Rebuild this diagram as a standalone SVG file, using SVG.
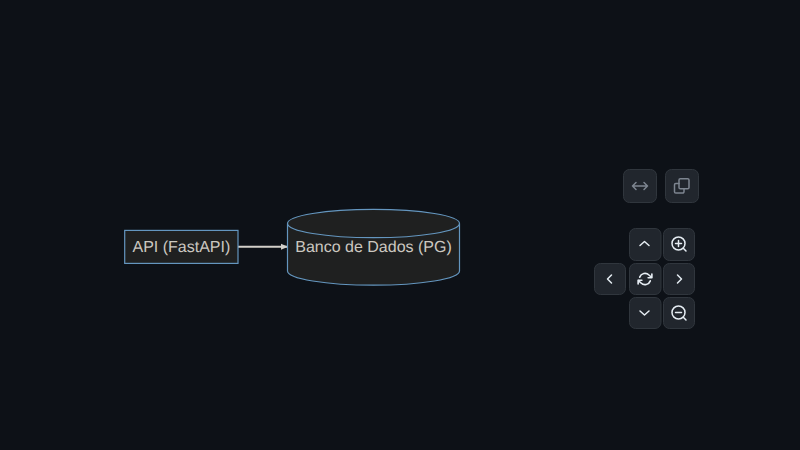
<svg xmlns="http://www.w3.org/2000/svg" width="800" height="450" viewBox="0 0 800 450">
<style>
.n{fill:#1f2020;stroke:#6496bf;stroke-width:1.2}
text{font-family:"Liberation Sans",Arial,sans-serif;font-size:16px;fill:#ccc8c0;text-anchor:middle;text-rendering:geometricPrecision}
.b{fill:#21262d;stroke:#30363d;stroke-width:1}
.i{fill:none;stroke:#e6edf3;stroke-width:1.5;stroke-linecap:round;stroke-linejoin:round}
.d{fill:none;stroke:#7d8590;stroke-width:1.5;stroke-linecap:round;stroke-linejoin:round}
</style>
<defs>
<marker id="arrow" markerUnits="userSpaceOnUse" markerWidth="8" markerHeight="8" refX="7" refY="4" orient="auto"><path d="M0 1L7 4L0 7Z" fill="#d3d0ca"/></marker>
</defs>
<rect width="800" height="450" fill="#0d1117"/>
<g id="connectors"><path d="M238 246.800H288" fill="none" stroke="#d3d0ca" stroke-width="2" marker-end="url(#arrow)"/></g>
<g id="api"><rect class="n" x="124.700" y="230.400" width="113.300" height="33"/><text x="181.400" y="251.800">API (FastAPI)</text></g>
<g id="db"><path class="n" d="M287.500 223.500C287.500 215.700 326 209.300 373.500 209.300S459.500 215.700 459.500 223.500V271C459.500 278.800 421 285.200 373.500 285.200S287.500 278.800 287.500 271Z"/><path class="n" style="fill:none" d="M287.500 223.500C287.500 231.300 326 237.700 373.500 237.700S459.500 231.300 459.500 223.500"/><text x="373.500" y="251.800">Banco de Dados (PG)</text></g>
<g id="btn-fit"><rect class="b" x="623.500" y="169.500" width="33" height="33" rx="6"/><path class="d" d="M632.500 186H647.500M636 182.500L632.500 186L636 189.500M644 182.500L647.500 186L644 189.500"/></g>
<g id="btn-copy"><rect class="b" x="665.500" y="169.500" width="33" height="33" rx="6"/><path class="d" d="M679 183.500H675.800A1.300 1.300 0 0 0 674.500 184.800V191.700A1.300 1.300 0 0 0 675.800 193H682.700A1.300 1.300 0 0 0 684 191.700V188.700"/><rect class="d" x="679" y="178.700" width="10" height="10" rx="1.300"/></g>
<g id="btn-up"><rect class="b" x="629.500" y="228.500" width="31.500" height="32" rx="6"/><path class="i" d="M640 245.500L644.500 241.500L649 245.500"/></g>
<g id="btn-zoom-in"><rect class="b" x="663.500" y="228.500" width="31" height="32" rx="6"/><circle class="i" cx="678.500" cy="243.500" r="6.500"/><path class="i" d="M683.300 248.300L686 251M675.500 243.500H681.500M678.500 240.500V246.500"/></g>
<g id="btn-left"><rect class="b" x="594.500" y="263.500" width="31" height="31" rx="6"/><path class="i" d="M611.500 275L607.500 279L611.500 283"/></g>
<g id="btn-reset"><rect class="b" x="629.500" y="263.500" width="31.500" height="31" rx="6"/><g transform="translate(637.500 271.500) scale(.625)"><path style="stroke-width:2.6" class="i" d="M23 4V10H17M1 20V14H7M3.510 9A9 9 0 0 1 18.360 5.640L23 10M1 14L5.640 18.360A9 9 0 0 0 20.490 15"/></g></g>
<g id="btn-right"><rect class="b" x="663.500" y="263.500" width="31" height="31" rx="6"/><path class="i" d="M677.500 275L681.500 279L677.500 283"/></g>
<g id="btn-down"><rect class="b" x="629.500" y="297.500" width="31.500" height="31" rx="6"/><path class="i" d="M640 311L644.500 315L649 311"/></g>
<g id="btn-zoom-out"><rect class="b" x="663.500" y="297.500" width="31" height="31" rx="6"/><circle class="i" cx="678.500" cy="312.500" r="6.500"/><path class="i" d="M683.300 317.300L686 320M675.500 312.500H681.500"/></g>
</svg>
